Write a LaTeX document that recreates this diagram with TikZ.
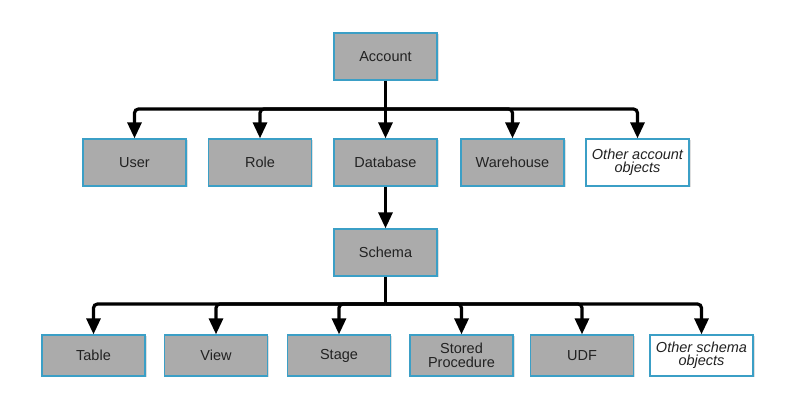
\documentclass[tikz,border=0pt]{standalone}
\usepackage{fontspec}
\setmainfont{Liberation Sans}
\usetikzlibrary{arrows.meta,shadows}

\definecolor{boxgray}{HTML}{ABABAB}
\definecolor{boxedge}{HTML}{3B9FC6}
\definecolor{txtgray}{HTML}{222222}

\tikzset{
  objbox/.style={draw=boxedge, line width=1.3pt, fill=boxgray, minimum width=103pt,
    minimum height=47pt, inner sep=0pt, align=center, text=txtgray,
    font=\fontsize{14.5}{13.5}\selectfont,
    drop shadow={shadow xshift=1.5pt, shadow yshift=-1.5pt, opacity=0.25}},
  lowbox/.style={objbox, minimum height=41pt},
  otherbox/.style={fill=white, font=\fontsize{14.5}{13.5}\selectfont\itshape},
  link/.style={line width=3.2pt, rounded corners=4pt,
    -{Triangle[width=14pt,length=16pt]}},
}

\begin{document}
\begin{tikzpicture}[x=1pt,y=1pt]
        \useasboundingbox (0,0) rectangle (785,406);

        % Account and its objects
        \node[objbox] (account) at (385.5,349.5) {Account};
        \node[objbox] (user) at (134.5,243.5) {User};
        \node[objbox] (role) at (260,243.5) {Role};
        \node[objbox] (database) at (385.5,243.5) {Database};
        \node[objbox] (warehouse) at (512.5,243.5) {Warehouse};
        \node[objbox, otherbox] (otheracc) at (637.5,243.5) {Other account\\objects};

        % Schema and its objects
        \node[objbox] (schema) at (385.5,153.5) {Schema};
        \node[lowbox] (table) at (93.5,50.5) {Table};
        \node[lowbox] (view) at (216,50.5) {View};
        \node[lowbox] (stage) at (339,50.5) {Stage};
        \node[lowbox] (storedproc) at (461.5,50.5) {Stored\\Procedure};
        \node[lowbox] (udf) at (582,50.5) {UDF};
        \node[lowbox, otherbox] (otherschema) at (701.5,50.5) {Other schema\\objects};

        % Bus lines
        \coordinate (bus1) at (0,297);
        \coordinate (bus2) at (0,102);

        % Account links
        \draw[link] (account.south) -- (database.north);
        \foreach \n in {user,role,warehouse,otheracc}
          \draw[link] (account.south |- bus1) -| (\n.north);

        \draw[link] (database.south) -- (schema.north);

        % Schema links
        \draw[line width=3.2pt] (schema.south) -- (schema.south |- bus2);
        \foreach \n in {table,view,stage,storedproc,udf,otherschema}
          \draw[link] (schema.south |- bus2) -| (\n.north);
\end{tikzpicture}
\end{document}
